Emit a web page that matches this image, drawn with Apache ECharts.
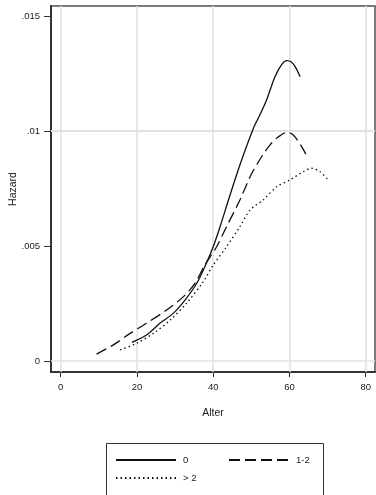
<!DOCTYPE html>
<html>
<head>
<meta charset="utf-8">
<script src="https://cdn.jsdelivr.net/npm/echarts@6/dist/echarts.min.js"></script>
<style>html,body{margin:0;padding:0;background:#fff;}#c{width:376px;height:495px;}</style>
</head>
<body>
<div id="c"></div>
<script>
// ---- data ----
var seriesNames = ['0', '1-2', '> 2'];
var age0 = [18.7, 22.5, 26, 29.5, 32.6, 35.7, 37.8, 40, 41.8, 44, 47, 50.5, 52.3, 54, 56.2, 58, 59.3, 60.5, 61.5, 62.8];
var haz0 = [0.00081, 0.00113, 0.00164, 0.00207, 0.00265, 0.00338, 0.0041, 0.00497, 0.00584, 0.0070, 0.00852, 0.0101, 0.01072, 0.01135, 0.01236, 0.0129, 0.01306, 0.0130, 0.0128, 0.01236];
var age12 = [9.4, 13.8, 18.2, 22.5, 27.8, 32.2, 35.2, 37.8, 40.9, 43.5, 47, 50, 52.7, 54.7, 56.7, 59.3, 61, 63.2, 64.9];
var haz12 = [0.0003, 0.0007, 0.0012, 0.00164, 0.00222, 0.0028, 0.00338, 0.00417, 0.00497, 0.00584, 0.0070, 0.00812, 0.00888, 0.00935, 0.0097, 0.00994, 0.00983, 0.00932, 0.00881];
var age2 = [15.6, 19.9, 24.3, 28.7, 33, 37.4, 40, 43.5, 47, 49.7, 53.1, 56.7, 60.1, 63.6, 65.8, 68, 70.2];
var haz2 = [0.00048, 0.00077, 0.0012, 0.00178, 0.00251, 0.00345, 0.00417, 0.00497, 0.00584, 0.00657, 0.0070, 0.00758, 0.00787, 0.00823, 0.00838, 0.00823, 0.00787];
var xTicks = [0, 20, 40, 60, 80];
var xTickLabels = ['0', '20', '40', '60', '80'];
var yTicks = [0, 0.005, 0.01, 0.015];
var yTickLabels = ['0', '.005', '.01', '.015'];
var xTitle = 'Alter';
var yTitle = 'Hazard';

function pairs(xs, ys) { return xs.map(function (x, i) { return [x, ys[i]]; }); }

var FONT = "'Liberation Sans', Arial, sans-serif";
var grid = { left: 51, top: 6, width: 324, height: 366 };

var gridLines = [];
xTicks.forEach(function (v) { gridLines.push({ xAxis: v }); });
yTicks.forEach(function (v) { gridLines.push({ yAxis: v }); });

var chart = echarts.init(document.getElementById('c'), null, { renderer: 'canvas' });
chart.setOption({
  animation: false,
  backgroundColor: '#fff',
  grid: { left: grid.left, top: grid.top, width: grid.width, height: grid.height, containLabel: false, outerBoundsMode: 'none',
    show: true, borderColor: '#7a7a7a', borderWidth: 2, backgroundColor: '#fff' },
  xAxis: {
    type: 'value', min: -2.544, max: 82.44,
    name: xTitle, nameLocation: 'middle', nameGap: 36, nameMoveOverlap: false,
    nameTextStyle: { fontFamily: FONT, fontSize: 10.5, color: '#222' },
    axisLine: { show: true, onZero: false, lineStyle: { color: '#333', width: 2 } },
    axisTick: { show: true, length: 5, customValues: xTicks, lineStyle: { color: '#333', width: 1 } },
    axisLabel: { customValues: xTicks, margin: 10, fontFamily: FONT, fontSize: 9.5, color: '#222',
      formatter: function (v) { var i = xTicks.indexOf(v); return i >= 0 ? xTickLabels[i] : ''; } },
    splitLine: { show: false }
  },
  yAxis: {
    type: 'value', min: -0.000478, max: 0.015435,
    name: yTitle, nameLocation: 'middle', nameGap: 32, nameRotate: 90, nameMoveOverlap: false,
    nameTextStyle: { fontFamily: FONT, fontSize: 10.5, color: '#222' },
    axisLine: { show: true, onZero: false, lineStyle: { color: '#333', width: 2 } },
    axisTick: { show: true, length: 7, customValues: yTicks, lineStyle: { color: '#333', width: 1 } },
    axisLabel: { customValues: yTicks, margin: 11, fontFamily: FONT, fontSize: 9.5, color: '#222',
      formatter: function (v) { var i = yTicks.indexOf(v); return i >= 0 ? yTickLabels[i] : ''; } },
    splitLine: { show: false }
  },
  legend: {
    left: 110, top: 450, width: 210,
    itemWidth: 60, itemHeight: 10, itemGap: 8,
    itemStyle: { opacity: 0 },
    textStyle: { fontFamily: FONT, fontSize: 9.5, color: '#222', padding: [0, 0, 0, 2], lineHeight: 10 },
    data: [
      { name: seriesNames[0], textStyle: { width: 37 } },
      { name: seriesNames[1] },
      { name: seriesNames[2] }
    ]
  },
  graphic: [{
    type: 'rect', left: 104, top: 441, silent: true,
    shape: { width: 217, height: 70 },
    style: { fill: 'none', stroke: '#333', lineWidth: 1 }
  }],
  series: [
    {
      type: 'line', data: [], silent: true, z: 1,
      markLine: {
        silent: true, symbol: ['none', 'none'], label: { show: false }, z: 1,
        lineStyle: { type: 'solid', color: '#e2e2e2', width: 1.5 },
        emphasis: { disabled: true },
        data: gridLines
      }
    },
    {
      name: seriesNames[0], type: 'line', data: pairs(age0, haz0), smooth: 0.3, symbol: 'none', z: 3,
      lineStyle: { color: '#111', width: 1.3, type: 'solid' }, itemStyle: { color: '#111' }
    },
    {
      name: seriesNames[1], type: 'line', data: pairs(age12, haz12), smooth: 0.3, symbol: 'none', z: 3,
      lineStyle: { color: '#111', width: 1.3, type: [11, 5] }, itemStyle: { color: '#111' }
    },
    {
      name: seriesNames[2], type: 'line', data: pairs(age2, haz2), smooth: 0.3, symbol: 'none', z: 3,
      lineStyle: { color: '#111', width: 1.3, type: [1.5, 3] }, itemStyle: { color: '#111' }
    }
  ]
});
</script>
</body>
</html>
